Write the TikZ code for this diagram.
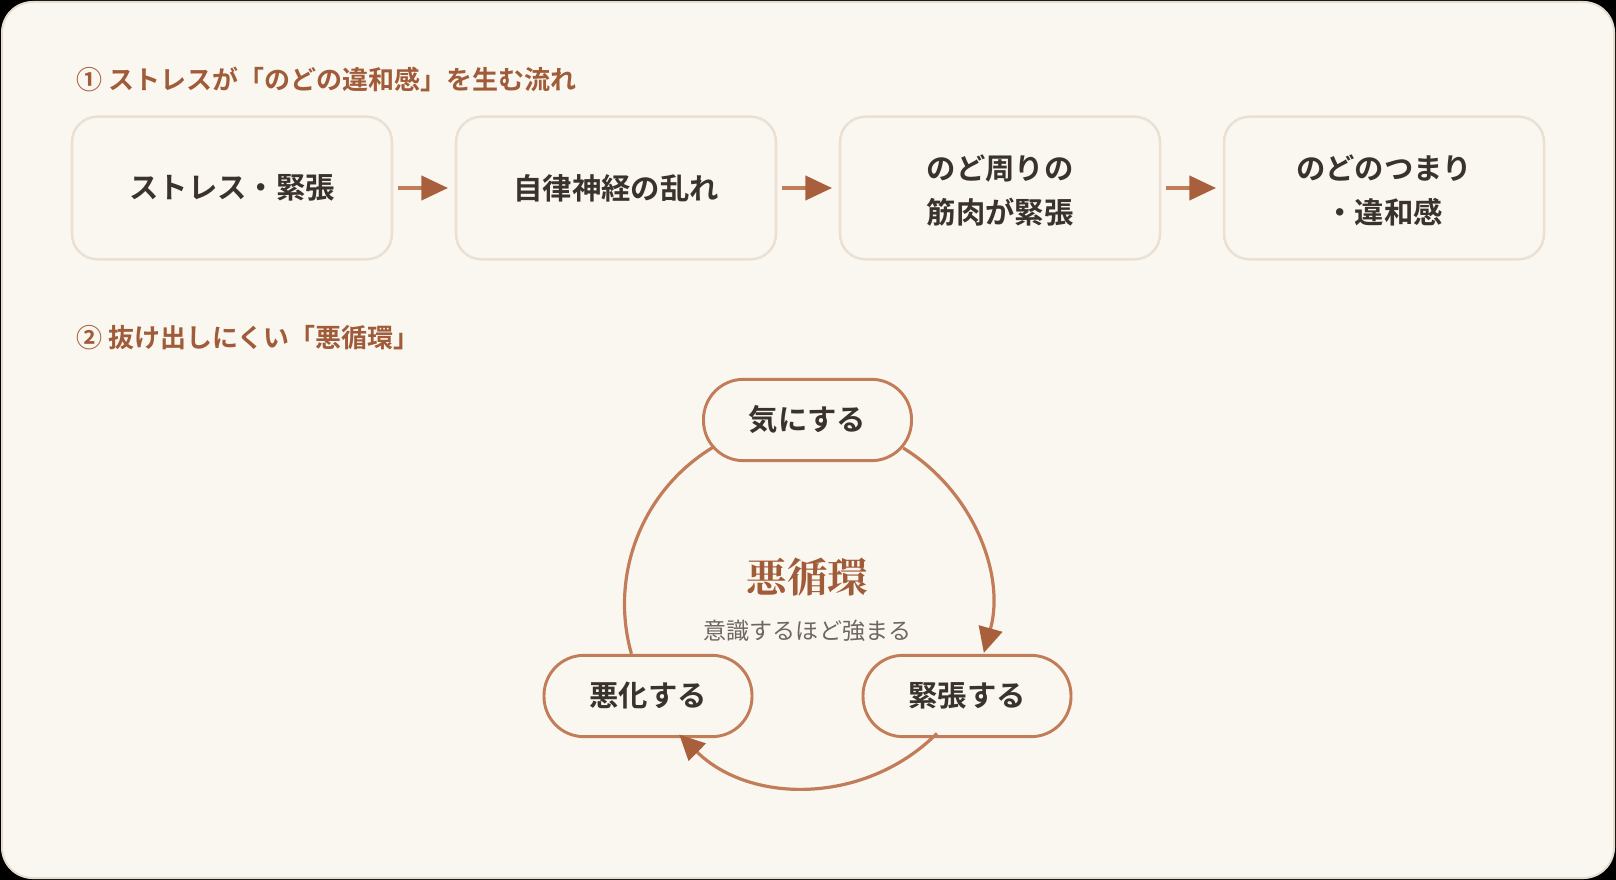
\documentclass[tikz,border=0pt]{standalone}
\usepackage{fontspec}
\setmainfont{Noto Sans CJK JP}[BoldFont={Noto Sans CJK JP Bold}]
\newfontfamily\titlefont{Noto Serif CJK JP}[BoldFont={Noto Serif CJK JP Bold}]
\usetikzlibrary{positioning, arrows.meta}

\definecolor{cardbg}{HTML}{FAF7F1}
\definecolor{cardline}{HTML}{E6DDCE}
\definecolor{boxline}{HTML}{EAE0D3}
\definecolor{inktext}{HTML}{3A322D}
\definecolor{headbrown}{HTML}{A05B39}
\definecolor{cycline}{HTML}{C27C57}
\definecolor{tipbrown}{HTML}{A8603C}
\definecolor{subgray}{HTML}{6E6661}

\begin{document}
\begin{tikzpicture}[
        x=0.75pt, y=-0.75pt,
        heading/.style={anchor=west, inner sep=0pt, font=\bfseries\fontsize{19.5}{23}\selectfont, text=headbrown},
        flowbox/.style={draw=boxline, line width=1.9pt, fill=cardbg, rectangle, rounded corners=19pt, minimum width=240pt, minimum height=107pt, align=center, font=\bfseries\fontsize{22}{33}\selectfont, text=inktext},
        pill/.style={draw=cycline, line width=2.2pt, fill=cardbg, rectangle, rounded corners=30pt, minimum width=156pt, minimum height=61pt, font=\bfseries\fontsize{22}{25}\selectfont, text=inktext},
        flowarrow/.style={-{Triangle[length=20pt, width=18pt, color=tipbrown]}, line width=3pt, draw=cycline, shorten <=3.5pt, shorten >=5pt},
        cycarrow/.style={-{Triangle[length=19pt, width=18pt, color=tipbrown]}, line width=2.4pt, draw=cycline},
        cycline/.style={line width=2.4pt, draw=cycline}
    ]

        % card
        \useasboundingbox (0,0) rectangle (1616,880);
        \fill[black] (0,0) rectangle (1616,880);
        \draw[fill=cardbg, draw=cardline, line width=1.5pt, rounded corners=23pt] (2,2) rectangle (1614,878);

        % part 1
        \node[heading] (head1) at (76,79) {① ストレスが「のどの違和感」を生む流れ};

        \node[flowbox] (stress) at (232,188) {ストレス・緊張};
        \node[flowbox] (nerve) at (616,188) {自律神経の乱れ};
        \node[flowbox] (muscle) at (1000,188) {\rule{0pt}{22pt}のど周りの\\筋肉が緊張};
        \node[flowbox] (throat) at (1384,188) {\rule{0pt}{22pt}のどのつまり\\・違和感};

        \draw[flowarrow] (stress) -- (nerve);
        \draw[flowarrow] (nerve) -- (muscle);
        \draw[flowarrow] (muscle) -- (throat);

        % part 2
        \node[heading] (head2) at (76,338) {② 抜け出しにくい「悪循環」};

        \coordinate (cyc) at (807.5,604);
        \node[pill] (worry) at (807.5,420) {気にする};
        \node[pill] (tense) at (967,696) {緊張する};
        \node[pill] (worse) at (648,696) {悪化する};

        \draw[cycarrow] ([shift={(-58.5:183)}]cyc) arc[start angle=-58.5, end angle=15.5, radius=183];
        \draw[cycarrow] ([shift={(45:183)}]cyc) arc[start angle=45, end angle=134.5, radius=183];
        \draw[cycline] ([shift={(164.2:183)}]cyc) arc[start angle=164.2, end angle=239.4, radius=183];

        \node[font=\titlefont\bfseries\fontsize{30.5}{34}\selectfont, text=headbrown] (cyctitle) at (807.5,577) {悪循環};
        \node[font=\fontsize{17.3}{20}\selectfont, text=subgray] (cycsub) at (807.5,631) {意識するほど強まる};

    \end{tikzpicture}
\end{document}
